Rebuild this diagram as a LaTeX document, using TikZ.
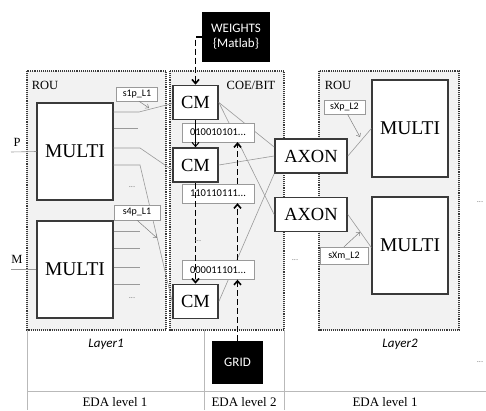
\documentclass[tikz,border=0pt]{standalone}
\usepackage{fontspec}
\setmainfont{Liberation Serif}
\setsansfont{Carlito}
\usetikzlibrary{arrows.meta,positioning}
\definecolor{panelgray}{HTML}{F2F2F2}
\definecolor{edgegray}{HTML}{3A3A3A}
\definecolor{linkgray}{HTML}{9A9A9A}

\begin{document}
\begin{tikzpicture}[x=1pt, y=-1pt,
  panel/.style={draw=edgegray, densely dotted, line width=1.1pt, fill=panelgray},
  unit/.style={draw=edgegray, line width=1.3pt, fill=white, minimum width=76pt, minimum height=97pt, inner sep=0pt, font=\fontsize{19.5}{22}\selectfont},
  cmbox/.style={draw=edgegray, line width=1.7pt, fill=white, minimum width=45pt, minimum height=34pt, inner sep=0pt, font=\fontsize{18.5}{21}\selectfont},
  axon/.style={cmbox, minimum width=72pt},
  bits/.style={draw=linkgray, fill=white, minimum width=72pt, minimum height=19pt, inner sep=0pt, font=\sffamily\fontsize{10.5}{12}\selectfont},
  tag/.style={draw=linkgray, fill=white, minimum width=41pt, minimum height=14pt, inner sep=0pt, font=\sffamily\fontsize{10}{11}\selectfont},
  src/.style={fill=black, text=white, inner sep=0pt, align=center, font=\sffamily\fontsize{13}{15}\selectfont},
  head/.style={font=\fontsize{12.5}{14}\selectfont},
  layer/.style={font=\sffamily\itshape\fontsize{13}{15}\selectfont},
  eda/.style={font=\fontsize{13}{15}\selectfont},
  dots/.style={font=\sffamily\fontsize{8.5}{9}\selectfont, text=gray, inner sep=0pt},
  link/.style={draw=linkgray, line width=0.6pt},
  tagarr/.style={draw=gray, line width=0.5pt, -{Straight Barb[length=3pt, width=5pt]}},
  flow/.style={line width=1.6pt, dash pattern=on 6pt off 3pt, -{Straight Barb[length=4pt, width=7pt]}},
  rule/.style={draw=gray!55, line width=0.7pt},
]
\useasboundingbox (0,0) rectangle (486,410);

% panels and table
\draw[panel] (27,71) rectangle (166,330);
\draw[panel] (170,71) rectangle (284,330);
\draw[panel] (319,71) rectangle (459,330);
\draw[rule] (27,330) -- (27,410);
\draw[rule] (204,330) -- (204,410);
\draw[rule] (284,330) -- (284,410);
\draw[rule] (27,391) -- (486,391);

\node[head] (rou1) at (45,85) {ROU};
\node[head] (coe) at (251,85) {COE/BIT};
\node[head] (rou2) at (338,85) {ROU};
\node[layer] (lay1) at (106,344) {Layer1};
\node[layer] (lay2) at (400,344) {Layer2};
\node[eda] (eda1) at (115,402) {EDA level 1};
\node[eda] (eda2) at (244,402) {EDA level 2};
\node[eda] (eda3) at (385,402) {EDA level 1};

% sources
\node[src, minimum width=68pt, minimum height=50pt] (weights) at (236,37) {WEIGHTS\\\{Matlab\}};
\node[src, minimum width=51pt, minimum height=43pt] (grid) at (237.5,362.5) {GRID};

% layer 1
\node[unit] (multiA) at (75,151.5) {MULTI};
\node[unit] (multiB) at (75,269.5) {MULTI};
\node[head] (pin) at (17,142) {P};
\node[head] (min) at (17,259) {M};
\coordinate (pend) at (11,152);
\coordinate (mend) at (11,269.5);
\draw[link] (pend) -- (multiA.west);
\draw[link] (mend) -- (multiB.west);

% COE/BIT
\node[cmbox] (cm1) at (195.5,102.5) {CM};
\node[cmbox] (cm2) at (195.5,165) {CM};
\node[cmbox] (cm3) at (195.5,301.5) {CM};

% layer 2
\node[axon] (axonA) at (311,156) {AXON};
\node[axon] (axonB) at (311,214.5) {AXON};
\node[unit] (multiC) at (410,128.5) {MULTI};
\node[unit] (multiD) at (410,245.5) {MULTI};

% outputs of the first MULTI
\coordinate (oa1) at (139,112);
\coordinate (oa2) at (138,128);
\coordinate (oa3) at (140,148);
\coordinate (oa4) at (140,165);
\draw[link] (multiA.east |- oa1) -- (oa1) -- ([yshift=-1pt]cm1.west);
\draw[link] (multiA.east |- oa2) -- (oa2);
\draw[link] (multiA.east |- oa3) -- (oa3) -- ([yshift=-5pt]cm2.west);
\draw[link] (multiA.east |- oa4) -- (oa4) -- (cm3.west);
\foreach \y in {231,248,267,284}
  \draw[link] (multiB.east |- 0,\y) -- (140,\y);

% synapse links
\draw[link] (cm1.east) -- ([yshift=9pt]axonA.west);
\draw[link] (cm1.east) -- (axonB.west);
\draw[link] (cm2.east) -- (axonA.west);
\draw[link] (cm3.east) -- (axonA.south west);
\draw[link] (axonA.east) -- (multiC.west);
\draw[link] (axonB.east) -- ([yshift=-2pt]multiD.west);

% labels of the links
\node[tag] (s1p) at (137,94) {s1p\_L1};
\node[tag, minimum width=46pt, minimum height=15pt] (s4p) at (137,212.5) {s4p\_L1};
\node[tag] (sxp) at (344.5,107) {sXp\_L2};
\node[tag, minimum width=48pt, minimum height=17pt] (sxm) at (344,255.5) {sXm\_L2};
\coordinate (t1) at (149,108);
\coordinate (t2) at (157,238);
\coordinate (t3) at (360,137);
\coordinate (t4) at (360,232);
\draw[tagarr] ([xshift=2pt]s1p.south) -- (t1);
\draw[tagarr] (s4p.south) -- (t2);
\draw[tagarr] ([xshift=3pt]sxp.south) -- (t3);
\draw[tagarr] (sxm.north) -- (t4);

% bit strings
\node[bits] (bitA) at (218,132.5) {010010101...};
\node[bits] (bitB) at (218,193.5) {110110111...};
\node[bits] (bitC) at (218,270) {000011101...};

% data flow
\draw[flow] (weights.west) -| (cm1.north);
\draw[line width=1pt, -{Straight Barb[length=4pt, width=7pt]}] (cm1.south) -- (cm2.north);
\draw[flow] (cm2.south) -- (cm3.north);
\draw[flow] (grid.north) -- (grid.north |- bitC.south);
\draw[flow] (grid.north |- bitC.north) -- (grid.north |- bitB.south);
\draw[flow] (grid.north |- bitB.north) -- (grid.north |- bitA.south);

% ellipses
\node[dots] (d1) at (132,187) {...};
\node[dots] (d2) at (132,298) {...};
\node[dots] (d3) at (198,241) {...};
\node[dots] (d4) at (295,260) {...};
\node[dots] (d5) at (480,202) {...};
\node[dots] (d6) at (480,362) {...};
\end{tikzpicture}
\end{document}
